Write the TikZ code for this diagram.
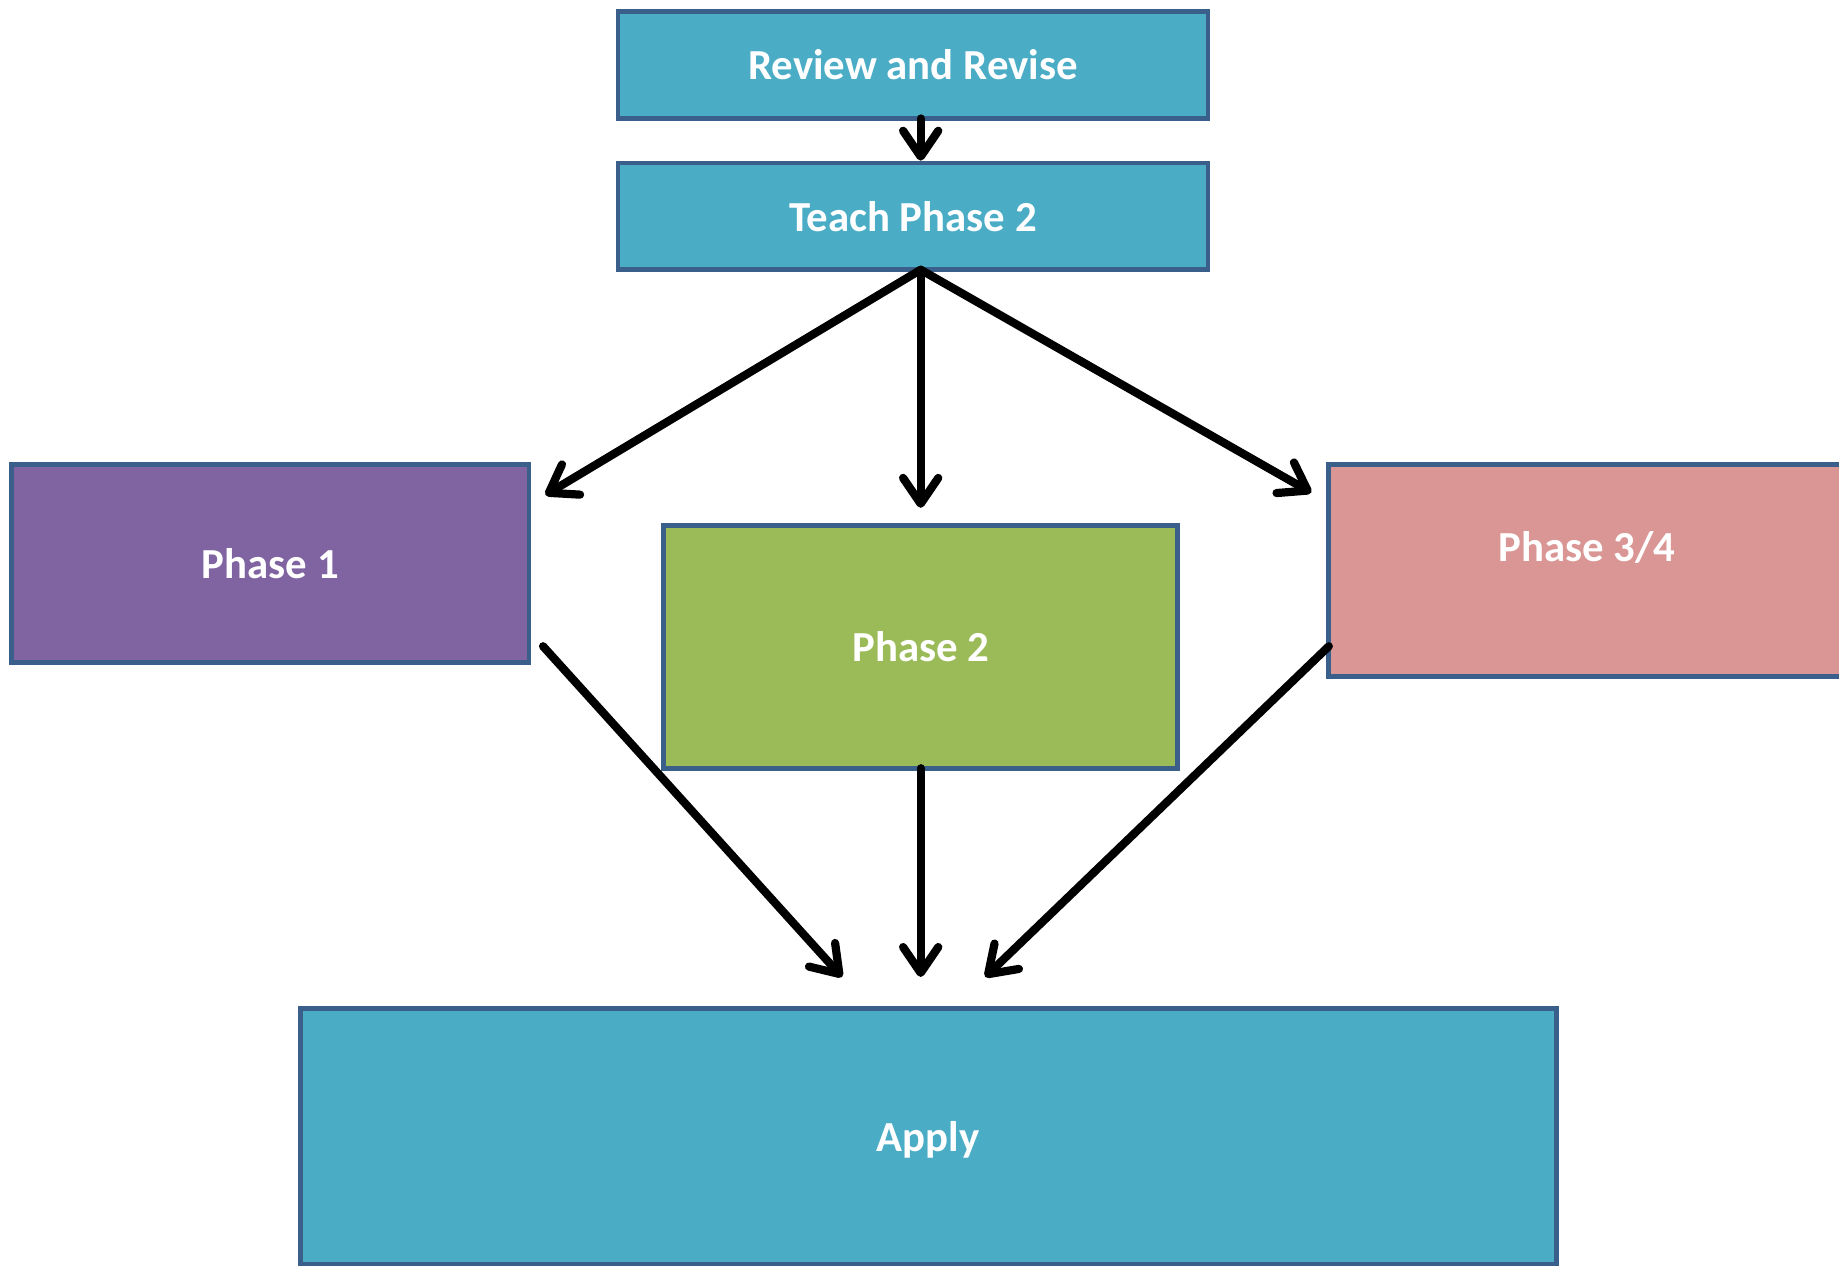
\documentclass[tikz,border=0pt]{standalone}
\usepackage{fontspec}
\setmainfont{Carlito}
\usetikzlibrary{arrows.meta}
\definecolor{bordblue}{HTML}{3A5F8B}
\definecolor{tealfill}{HTML}{4BACC6}
\definecolor{purplefill}{HTML}{8064A2}
\definecolor{greenfill}{HTML}{9BBB59}
\definecolor{pinkfill}{HTML}{D99694}
\tikzset{
  boxst/.style={draw=bordblue, line width=4pt, rectangle, inner sep=0pt,
    text=white, font=\bfseries\fontsize{36.5}{42}\selectfont},
  arr/.style={line width=7pt, black, line cap=round,
    -{Straight Barb[length=22pt,width=30pt,round]}},
  txtst/.style={text=white, font=\bfseries\fontsize{36.5}{42}\selectfont, inner sep=0pt}
}
\begin{document}
\begin{tikzpicture}[x=1pt,y=-1pt]
\useasboundingbox (0,0) rectangle (1568,1079);
\clip (0,0) rectangle (1568,1079);
\fill[white] (0,0) rectangle (1568,1079);
% boxes
\node[boxst, fill=tealfill, minimum width=503pt, minimum height=91pt] (rev) at (778.5,55.5) {Review and Revise};
\node[boxst, fill=tealfill, minimum width=503pt, minimum height=91pt] (teach) at (778.5,184.5) {Teach Phase 2};
\node[boxst, fill=purplefill, minimum width=441pt, minimum height=169pt] (p1) at (230.5,480.5) {Phase 1};
\node[boxst, fill=greenfill, minimum width=438pt, minimum height=207pt] (p2) at (785,551.5) {Phase 2};
\node[boxst, fill=pinkfill, minimum width=440pt, minimum height=181pt,
  label={[txtst, yshift=19.5pt]center:Phase 3/4}] (p34) at (1353,486.5) {};
\node[boxst, fill=tealfill, minimum width=1071pt, minimum height=218pt,
  label={[txtst, yshift=-3pt]center:Apply}] (apply) at (791.5,969) {};
% connector points
\coordinate (revb) at (785,101);
\coordinate (teacht) at (785,137);
\coordinate (teachb) at (785,230);
\coordinate (e1) at (465,422);
\coordinate (e2) at (785,433);
\coordinate (e3) at (1118,420);
\coordinate (s1) at (463,551);
\coordinate (s2) at (785,655);
\coordinate (s3) at (1133,551);
\coordinate (f1) at (718,833);
\coordinate (f2) at (785,833);
\coordinate (f3) at (840,833);
% arrows
\draw[arr] (revb) -- (teacht);
\draw[arr] (teachb) -- (e1);
\draw[arr] (teachb) -- (e2);
\draw[arr] (teachb) -- (e3);
\draw[arr] (s1) -- (f1);
\draw[arr] (s2) -- (f2);
\draw[arr] (s3) -- (f3);
\end{tikzpicture}
\end{document}
